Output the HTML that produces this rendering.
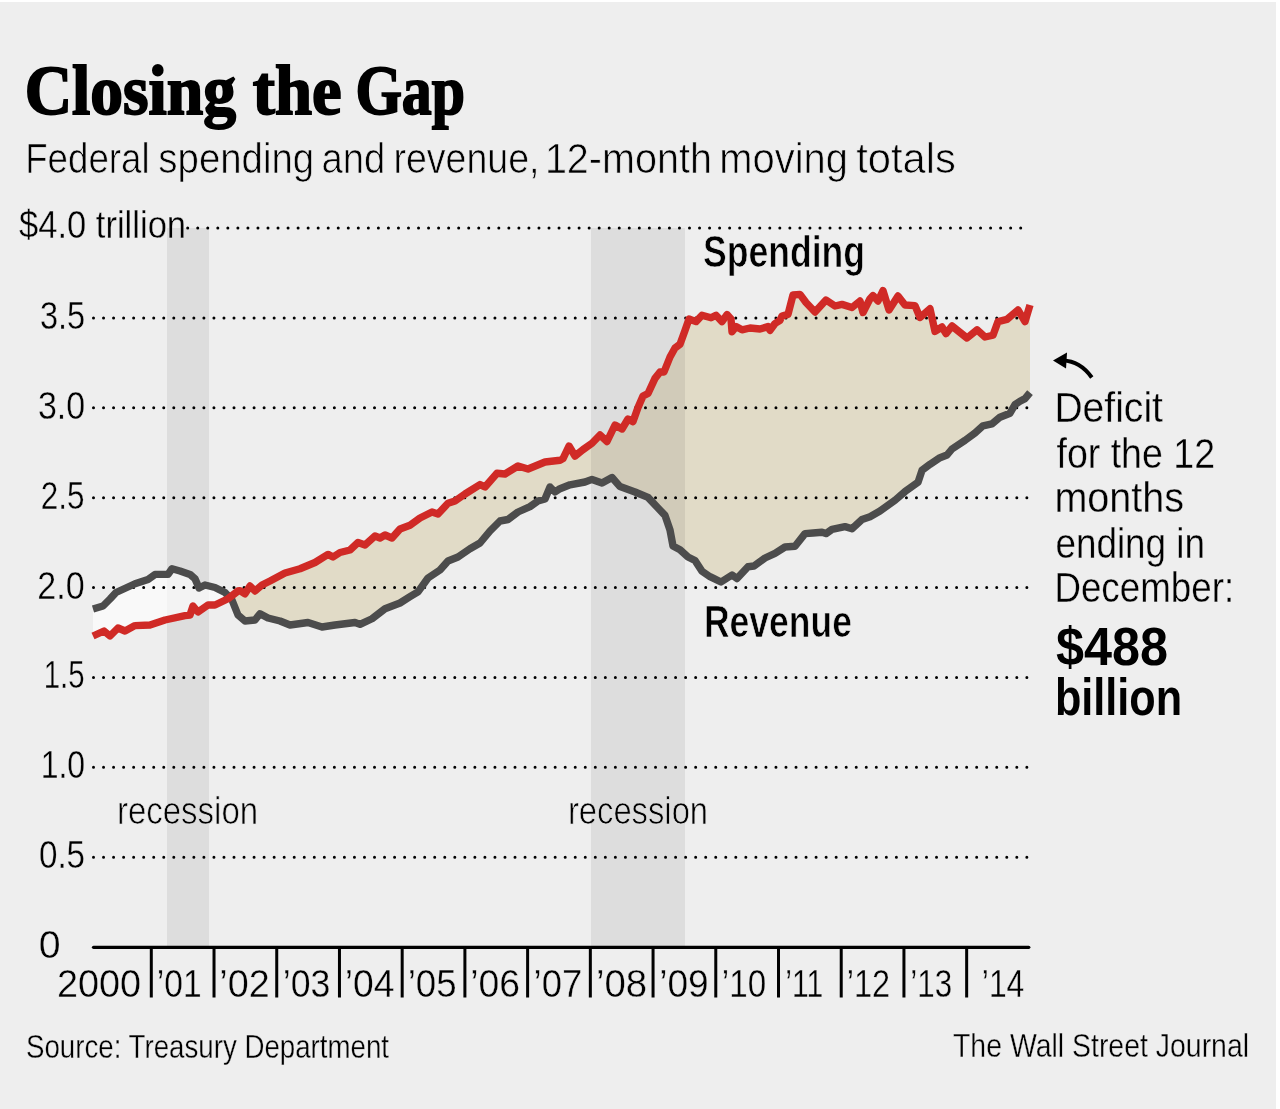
<!DOCTYPE html>
<html><head><meta charset="utf-8"><title>Closing the Gap</title>
<style>html,body{margin:0;padding:0;background:#eeeeee;width:1280px;height:1109px;overflow:hidden}svg{display:block}</style>
</head><body><svg width="1280" height="1109" viewBox="0 0 1280 1109">
<rect x="0" y="0" width="1280" height="1109" fill="#ffffff"/>
<rect x="0" y="2" width="1276" height="1107" fill="#eeeeee"/>
<rect x="167" y="228" width="42" height="719" fill="#dddddd"/>
<rect x="591" y="228" width="94" height="719" fill="#dddddd"/>
<defs><clipPath id="cb"><polygon points="93.00,636.00 104.00,631.00 110.00,636.00 118.00,628.00 125.00,631.00 135.00,625.60 150.00,625.00 165.00,620.00 185.00,615.60 190.00,615.00 193.00,606.00 198.00,612.00 208.00,605.00 215.00,605.00 228.00,598.75 238.00,591.00 240.00,590.60 245.00,593.75 250.00,586.00 255.00,591.00 262.00,585.00 270.00,581.00 285.00,573.00 300.00,568.75 315.00,562.50 328.00,554.40 333.00,557.00 340.00,552.50 350.00,550.00 358.00,542.50 365.00,545.00 375.00,536.00 380.00,538.00 385.00,535.00 392.00,538.00 400.00,529.00 410.00,525.20 420.00,518.00 432.00,512.00 438.00,514.00 448.00,503.30 455.00,501.00 465.00,494.00 480.00,484.60 485.00,487.00 497.00,473.30 505.00,474.00 518.00,466.00 528.00,469.00 545.00,462.00 560.00,460.30 563.00,458.60 569.00,446.00 575.00,456.00 583.00,449.60 592.00,443.30 600.00,435.00 607.00,441.50 615.00,425.00 622.00,429.00 628.00,419.00 633.00,421.60 638.00,407.40 643.00,396.00 648.00,393.50 655.00,378.40 660.00,372.00 664.00,372.00 670.00,357.00 675.00,348.00 680.00,344.30 685.00,330.40 689.00,319.00 696.00,321.60 702.00,315.25 711.00,317.80 716.00,315.25 722.00,321.60 727.00,314.60 731.00,319.00 732.00,331.70 736.00,326.60 742.00,329.80 750.00,328.00 760.00,329.00 768.00,326.60 770.00,330.40 775.00,323.50 780.00,320.30 782.00,316.00 788.00,314.40 793.00,295.00 800.00,294.40 806.00,302.50 815.00,312.00 826.00,300.00 835.00,306.00 842.00,304.40 852.00,307.50 860.00,301.00 863.00,312.50 870.00,298.75 873.00,295.60 878.00,301.00 883.00,290.60 889.00,310.00 898.00,296.00 905.00,305.00 915.00,305.60 920.00,317.50 930.00,308.75 935.00,331.40 942.00,327.00 946.00,333.60 952.00,326.00 967.00,338.00 977.00,329.80 985.00,337.00 993.00,335.25 998.00,321.60 1007.00,319.40 1018.00,310.00 1025.00,321.60 1030.00,305.00 1030.00,960.00 93.00,960.00"/></clipPath><clipPath id="ca"><polygon points="93.00,636.00 104.00,631.00 110.00,636.00 118.00,628.00 125.00,631.00 135.00,625.60 150.00,625.00 165.00,620.00 185.00,615.60 190.00,615.00 193.00,606.00 198.00,612.00 208.00,605.00 215.00,605.00 228.00,598.75 238.00,591.00 240.00,590.60 245.00,593.75 250.00,586.00 255.00,591.00 262.00,585.00 270.00,581.00 285.00,573.00 300.00,568.75 315.00,562.50 328.00,554.40 333.00,557.00 340.00,552.50 350.00,550.00 358.00,542.50 365.00,545.00 375.00,536.00 380.00,538.00 385.00,535.00 392.00,538.00 400.00,529.00 410.00,525.20 420.00,518.00 432.00,512.00 438.00,514.00 448.00,503.30 455.00,501.00 465.00,494.00 480.00,484.60 485.00,487.00 497.00,473.30 505.00,474.00 518.00,466.00 528.00,469.00 545.00,462.00 560.00,460.30 563.00,458.60 569.00,446.00 575.00,456.00 583.00,449.60 592.00,443.30 600.00,435.00 607.00,441.50 615.00,425.00 622.00,429.00 628.00,419.00 633.00,421.60 638.00,407.40 643.00,396.00 648.00,393.50 655.00,378.40 660.00,372.00 664.00,372.00 670.00,357.00 675.00,348.00 680.00,344.30 685.00,330.40 689.00,319.00 696.00,321.60 702.00,315.25 711.00,317.80 716.00,315.25 722.00,321.60 727.00,314.60 731.00,319.00 732.00,331.70 736.00,326.60 742.00,329.80 750.00,328.00 760.00,329.00 768.00,326.60 770.00,330.40 775.00,323.50 780.00,320.30 782.00,316.00 788.00,314.40 793.00,295.00 800.00,294.40 806.00,302.50 815.00,312.00 826.00,300.00 835.00,306.00 842.00,304.40 852.00,307.50 860.00,301.00 863.00,312.50 870.00,298.75 873.00,295.60 878.00,301.00 883.00,290.60 889.00,310.00 898.00,296.00 905.00,305.00 915.00,305.60 920.00,317.50 930.00,308.75 935.00,331.40 942.00,327.00 946.00,333.60 952.00,326.00 967.00,338.00 977.00,329.80 985.00,337.00 993.00,335.25 998.00,321.60 1007.00,319.40 1018.00,310.00 1025.00,321.60 1030.00,305.00 1030.00,150.00 93.00,150.00"/></clipPath></defs>
<polygon points="93.00,636.00 104.00,631.00 110.00,636.00 118.00,628.00 125.00,631.00 135.00,625.60 150.00,625.00 165.00,620.00 185.00,615.60 190.00,615.00 193.00,606.00 198.00,612.00 208.00,605.00 215.00,605.00 228.00,598.75 238.00,591.00 240.00,590.60 245.00,593.75 250.00,586.00 255.00,591.00 262.00,585.00 270.00,581.00 285.00,573.00 300.00,568.75 315.00,562.50 328.00,554.40 333.00,557.00 340.00,552.50 350.00,550.00 358.00,542.50 365.00,545.00 375.00,536.00 380.00,538.00 385.00,535.00 392.00,538.00 400.00,529.00 410.00,525.20 420.00,518.00 432.00,512.00 438.00,514.00 448.00,503.30 455.00,501.00 465.00,494.00 480.00,484.60 485.00,487.00 497.00,473.30 505.00,474.00 518.00,466.00 528.00,469.00 545.00,462.00 560.00,460.30 563.00,458.60 569.00,446.00 575.00,456.00 583.00,449.60 592.00,443.30 600.00,435.00 607.00,441.50 615.00,425.00 622.00,429.00 628.00,419.00 633.00,421.60 638.00,407.40 643.00,396.00 648.00,393.50 655.00,378.40 660.00,372.00 664.00,372.00 670.00,357.00 675.00,348.00 680.00,344.30 685.00,330.40 689.00,319.00 696.00,321.60 702.00,315.25 711.00,317.80 716.00,315.25 722.00,321.60 727.00,314.60 731.00,319.00 732.00,331.70 736.00,326.60 742.00,329.80 750.00,328.00 760.00,329.00 768.00,326.60 770.00,330.40 775.00,323.50 780.00,320.30 782.00,316.00 788.00,314.40 793.00,295.00 800.00,294.40 806.00,302.50 815.00,312.00 826.00,300.00 835.00,306.00 842.00,304.40 852.00,307.50 860.00,301.00 863.00,312.50 870.00,298.75 873.00,295.60 878.00,301.00 883.00,290.60 889.00,310.00 898.00,296.00 905.00,305.00 915.00,305.60 920.00,317.50 930.00,308.75 935.00,331.40 942.00,327.00 946.00,333.60 952.00,326.00 967.00,338.00 977.00,329.80 985.00,337.00 993.00,335.25 998.00,321.60 1007.00,319.40 1018.00,310.00 1025.00,321.60 1030.00,305.00 1030.00,392.60 1025.00,398.60 1020.00,401.20 1015.00,404.60 1010.00,413.20 1000.00,417.20 992.00,423.80 983.00,425.80 975.00,433.00 965.00,440.40 952.00,449.00 947.00,455.00 940.00,457.70 930.00,464.30 922.00,470.30 918.00,482.30 905.00,491.60 895.00,500.20 880.00,511.00 870.00,516.70 862.00,519.50 852.00,528.70 845.00,526.60 832.00,529.40 826.00,533.60 822.00,532.20 813.00,533.00 805.00,533.60 795.00,546.30 785.00,547.00 775.00,553.30 765.00,558.00 754.00,566.00 748.00,566.70 737.00,578.60 732.00,575.00 721.00,582.00 710.00,576.70 702.00,571.30 695.00,560.50 688.00,557.00 680.00,549.70 673.00,546.00 670.00,530.00 665.00,515.40 658.00,508.00 648.00,497.40 635.00,492.00 620.00,486.60 612.00,477.50 602.00,483.00 592.00,479.40 585.00,482.00 570.00,484.80 560.00,488.70 555.00,492.00 550.00,487.00 545.00,499.00 538.00,501.00 530.00,506.60 518.00,512.00 508.00,519.50 500.00,521.00 490.00,531.00 480.00,543.00 470.00,548.80 458.00,557.00 448.00,561.00 440.00,570.00 428.00,578.00 418.00,591.80 410.00,596.70 400.00,603.00 385.00,608.75 372.00,618.75 360.00,624.40 355.00,622.50 335.00,625.00 322.00,627.00 308.00,622.50 290.00,625.00 280.00,621.00 268.00,618.00 260.00,613.75 255.00,620.00 245.00,621.00 238.00,615.00 232.00,600.00 225.00,592.50 215.00,587.50 205.00,585.00 199.00,588.00 195.00,578.75 190.00,574.40 180.00,571.00 172.00,568.75 168.00,574.40 155.00,574.40 148.00,579.40 135.00,583.75 116.00,592.50 110.00,599.00 103.00,606.00 93.00,609.00" fill="#f2ebd6" style="mix-blend-mode:multiply" clip-path="url(#cb)"/>
<polygon points="93.00,636.00 104.00,631.00 110.00,636.00 118.00,628.00 125.00,631.00 135.00,625.60 150.00,625.00 165.00,620.00 185.00,615.60 190.00,615.00 193.00,606.00 198.00,612.00 208.00,605.00 215.00,605.00 228.00,598.75 238.00,591.00 240.00,590.60 245.00,593.75 250.00,586.00 255.00,591.00 262.00,585.00 270.00,581.00 285.00,573.00 300.00,568.75 315.00,562.50 328.00,554.40 333.00,557.00 340.00,552.50 350.00,550.00 358.00,542.50 365.00,545.00 375.00,536.00 380.00,538.00 385.00,535.00 392.00,538.00 400.00,529.00 410.00,525.20 420.00,518.00 432.00,512.00 438.00,514.00 448.00,503.30 455.00,501.00 465.00,494.00 480.00,484.60 485.00,487.00 497.00,473.30 505.00,474.00 518.00,466.00 528.00,469.00 545.00,462.00 560.00,460.30 563.00,458.60 569.00,446.00 575.00,456.00 583.00,449.60 592.00,443.30 600.00,435.00 607.00,441.50 615.00,425.00 622.00,429.00 628.00,419.00 633.00,421.60 638.00,407.40 643.00,396.00 648.00,393.50 655.00,378.40 660.00,372.00 664.00,372.00 670.00,357.00 675.00,348.00 680.00,344.30 685.00,330.40 689.00,319.00 696.00,321.60 702.00,315.25 711.00,317.80 716.00,315.25 722.00,321.60 727.00,314.60 731.00,319.00 732.00,331.70 736.00,326.60 742.00,329.80 750.00,328.00 760.00,329.00 768.00,326.60 770.00,330.40 775.00,323.50 780.00,320.30 782.00,316.00 788.00,314.40 793.00,295.00 800.00,294.40 806.00,302.50 815.00,312.00 826.00,300.00 835.00,306.00 842.00,304.40 852.00,307.50 860.00,301.00 863.00,312.50 870.00,298.75 873.00,295.60 878.00,301.00 883.00,290.60 889.00,310.00 898.00,296.00 905.00,305.00 915.00,305.60 920.00,317.50 930.00,308.75 935.00,331.40 942.00,327.00 946.00,333.60 952.00,326.00 967.00,338.00 977.00,329.80 985.00,337.00 993.00,335.25 998.00,321.60 1007.00,319.40 1018.00,310.00 1025.00,321.60 1030.00,305.00 1030.00,392.60 1025.00,398.60 1020.00,401.20 1015.00,404.60 1010.00,413.20 1000.00,417.20 992.00,423.80 983.00,425.80 975.00,433.00 965.00,440.40 952.00,449.00 947.00,455.00 940.00,457.70 930.00,464.30 922.00,470.30 918.00,482.30 905.00,491.60 895.00,500.20 880.00,511.00 870.00,516.70 862.00,519.50 852.00,528.70 845.00,526.60 832.00,529.40 826.00,533.60 822.00,532.20 813.00,533.00 805.00,533.60 795.00,546.30 785.00,547.00 775.00,553.30 765.00,558.00 754.00,566.00 748.00,566.70 737.00,578.60 732.00,575.00 721.00,582.00 710.00,576.70 702.00,571.30 695.00,560.50 688.00,557.00 680.00,549.70 673.00,546.00 670.00,530.00 665.00,515.40 658.00,508.00 648.00,497.40 635.00,492.00 620.00,486.60 612.00,477.50 602.00,483.00 592.00,479.40 585.00,482.00 570.00,484.80 560.00,488.70 555.00,492.00 550.00,487.00 545.00,499.00 538.00,501.00 530.00,506.60 518.00,512.00 508.00,519.50 500.00,521.00 490.00,531.00 480.00,543.00 470.00,548.80 458.00,557.00 448.00,561.00 440.00,570.00 428.00,578.00 418.00,591.80 410.00,596.70 400.00,603.00 385.00,608.75 372.00,618.75 360.00,624.40 355.00,622.50 335.00,625.00 322.00,627.00 308.00,622.50 290.00,625.00 280.00,621.00 268.00,618.00 260.00,613.75 255.00,620.00 245.00,621.00 238.00,615.00 232.00,600.00 225.00,592.50 215.00,587.50 205.00,585.00 199.00,588.00 195.00,578.75 190.00,574.40 180.00,571.00 172.00,568.75 168.00,574.40 155.00,574.40 148.00,579.40 135.00,583.75 116.00,592.50 110.00,599.00 103.00,606.00 93.00,609.00" fill="#ffffff" fill-opacity="0.65" clip-path="url(#ca)"/>
<path d="M187.70 228.10h0M197.74 228.10h0M207.77 228.10h0M217.81 228.10h0M227.84 228.10h0M237.88 228.10h0M247.92 228.10h0M257.95 228.10h0M267.99 228.10h0M278.02 228.10h0M288.06 228.10h0M298.10 228.10h0M308.13 228.10h0M318.17 228.10h0M328.20 228.10h0M338.24 228.10h0M348.28 228.10h0M358.31 228.10h0M368.35 228.10h0M378.38 228.10h0M388.42 228.10h0M398.46 228.10h0M408.49 228.10h0M418.53 228.10h0M428.56 228.10h0M438.60 228.10h0M448.64 228.10h0M458.67 228.10h0M468.71 228.10h0M478.74 228.10h0M488.78 228.10h0M498.82 228.10h0M508.85 228.10h0M518.89 228.10h0M528.92 228.10h0M538.96 228.10h0M549.00 228.10h0M559.03 228.10h0M569.07 228.10h0M579.10 228.10h0M589.14 228.10h0M599.18 228.10h0M609.21 228.10h0M619.25 228.10h0M629.28 228.10h0M639.32 228.10h0M649.36 228.10h0M659.39 228.10h0M669.43 228.10h0M679.46 228.10h0M689.50 228.10h0M699.54 228.10h0M709.57 228.10h0M719.61 228.10h0M729.64 228.10h0M739.68 228.10h0M749.72 228.10h0M759.75 228.10h0M769.79 228.10h0M779.82 228.10h0M789.86 228.10h0M799.90 228.10h0M809.93 228.10h0M819.97 228.10h0M830.00 228.10h0M840.04 228.10h0M850.08 228.10h0M860.11 228.10h0M870.15 228.10h0M880.18 228.10h0M890.22 228.10h0M900.26 228.10h0M910.29 228.10h0M920.33 228.10h0M930.36 228.10h0M940.40 228.10h0M950.44 228.10h0M960.47 228.10h0M970.51 228.10h0M980.54 228.10h0M990.58 228.10h0M1000.62 228.10h0M1010.65 228.10h0M1020.69 228.10h0" stroke="#000" stroke-width="3" stroke-linecap="round"/>
<path d="M93.50 317.98h0M103.54 317.98h0M113.57 317.98h0M123.61 317.98h0M133.64 317.98h0M143.68 317.98h0M153.72 317.98h0M163.75 317.98h0M173.79 317.98h0M183.82 317.98h0M193.86 317.98h0M203.90 317.98h0M213.93 317.98h0M223.97 317.98h0M234.00 317.98h0M244.04 317.98h0M254.08 317.98h0M264.11 317.98h0M274.15 317.98h0M284.18 317.98h0M294.22 317.98h0M304.26 317.98h0M314.29 317.98h0M324.33 317.98h0M334.36 317.98h0M344.40 317.98h0M354.44 317.98h0M364.47 317.98h0M374.51 317.98h0M384.54 317.98h0M394.58 317.98h0M404.62 317.98h0M414.65 317.98h0M424.69 317.98h0M434.72 317.98h0M444.76 317.98h0M454.80 317.98h0M464.83 317.98h0M474.87 317.98h0M484.90 317.98h0M494.94 317.98h0M504.98 317.98h0M515.01 317.98h0M525.05 317.98h0M535.08 317.98h0M545.12 317.98h0M555.16 317.98h0M565.19 317.98h0M575.23 317.98h0M585.26 317.98h0M595.30 317.98h0M605.34 317.98h0M615.37 317.98h0M625.41 317.98h0M635.44 317.98h0M645.48 317.98h0M655.52 317.98h0M665.55 317.98h0M675.59 317.98h0M685.62 317.98h0M695.66 317.98h0M705.70 317.98h0M715.73 317.98h0M725.77 317.98h0M735.80 317.98h0M745.84 317.98h0M755.88 317.98h0M765.91 317.98h0M775.95 317.98h0M785.98 317.98h0M796.02 317.98h0M806.06 317.98h0M816.09 317.98h0M826.13 317.98h0M836.16 317.98h0M846.20 317.98h0M856.24 317.98h0M866.27 317.98h0M876.31 317.98h0M886.34 317.98h0M896.38 317.98h0M906.42 317.98h0M916.45 317.98h0M926.49 317.98h0M936.52 317.98h0M946.56 317.98h0M956.60 317.98h0M966.63 317.98h0M976.67 317.98h0M986.70 317.98h0M996.74 317.98h0M1006.78 317.98h0M1016.81 317.98h0M1026.85 317.98h0" stroke="#000" stroke-width="3" stroke-linecap="round"/>
<path d="M93.50 407.85h0M103.54 407.85h0M113.57 407.85h0M123.61 407.85h0M133.64 407.85h0M143.68 407.85h0M153.72 407.85h0M163.75 407.85h0M173.79 407.85h0M183.82 407.85h0M193.86 407.85h0M203.90 407.85h0M213.93 407.85h0M223.97 407.85h0M234.00 407.85h0M244.04 407.85h0M254.08 407.85h0M264.11 407.85h0M274.15 407.85h0M284.18 407.85h0M294.22 407.85h0M304.26 407.85h0M314.29 407.85h0M324.33 407.85h0M334.36 407.85h0M344.40 407.85h0M354.44 407.85h0M364.47 407.85h0M374.51 407.85h0M384.54 407.85h0M394.58 407.85h0M404.62 407.85h0M414.65 407.85h0M424.69 407.85h0M434.72 407.85h0M444.76 407.85h0M454.80 407.85h0M464.83 407.85h0M474.87 407.85h0M484.90 407.85h0M494.94 407.85h0M504.98 407.85h0M515.01 407.85h0M525.05 407.85h0M535.08 407.85h0M545.12 407.85h0M555.16 407.85h0M565.19 407.85h0M575.23 407.85h0M585.26 407.85h0M595.30 407.85h0M605.34 407.85h0M615.37 407.85h0M625.41 407.85h0M635.44 407.85h0M645.48 407.85h0M655.52 407.85h0M665.55 407.85h0M675.59 407.85h0M685.62 407.85h0M695.66 407.85h0M705.70 407.85h0M715.73 407.85h0M725.77 407.85h0M735.80 407.85h0M745.84 407.85h0M755.88 407.85h0M765.91 407.85h0M775.95 407.85h0M785.98 407.85h0M796.02 407.85h0M806.06 407.85h0M816.09 407.85h0M826.13 407.85h0M836.16 407.85h0M846.20 407.85h0M856.24 407.85h0M866.27 407.85h0M876.31 407.85h0M886.34 407.85h0M896.38 407.85h0M906.42 407.85h0M916.45 407.85h0M926.49 407.85h0M936.52 407.85h0M946.56 407.85h0M956.60 407.85h0M966.63 407.85h0M976.67 407.85h0M986.70 407.85h0M996.74 407.85h0M1006.78 407.85h0M1016.81 407.85h0M1026.85 407.85h0" stroke="#000" stroke-width="3" stroke-linecap="round"/>
<path d="M93.50 497.73h0M103.54 497.73h0M113.57 497.73h0M123.61 497.73h0M133.64 497.73h0M143.68 497.73h0M153.72 497.73h0M163.75 497.73h0M173.79 497.73h0M183.82 497.73h0M193.86 497.73h0M203.90 497.73h0M213.93 497.73h0M223.97 497.73h0M234.00 497.73h0M244.04 497.73h0M254.08 497.73h0M264.11 497.73h0M274.15 497.73h0M284.18 497.73h0M294.22 497.73h0M304.26 497.73h0M314.29 497.73h0M324.33 497.73h0M334.36 497.73h0M344.40 497.73h0M354.44 497.73h0M364.47 497.73h0M374.51 497.73h0M384.54 497.73h0M394.58 497.73h0M404.62 497.73h0M414.65 497.73h0M424.69 497.73h0M434.72 497.73h0M444.76 497.73h0M454.80 497.73h0M464.83 497.73h0M474.87 497.73h0M484.90 497.73h0M494.94 497.73h0M504.98 497.73h0M515.01 497.73h0M525.05 497.73h0M535.08 497.73h0M545.12 497.73h0M555.16 497.73h0M565.19 497.73h0M575.23 497.73h0M585.26 497.73h0M595.30 497.73h0M605.34 497.73h0M615.37 497.73h0M625.41 497.73h0M635.44 497.73h0M645.48 497.73h0M655.52 497.73h0M665.55 497.73h0M675.59 497.73h0M685.62 497.73h0M695.66 497.73h0M705.70 497.73h0M715.73 497.73h0M725.77 497.73h0M735.80 497.73h0M745.84 497.73h0M755.88 497.73h0M765.91 497.73h0M775.95 497.73h0M785.98 497.73h0M796.02 497.73h0M806.06 497.73h0M816.09 497.73h0M826.13 497.73h0M836.16 497.73h0M846.20 497.73h0M856.24 497.73h0M866.27 497.73h0M876.31 497.73h0M886.34 497.73h0M896.38 497.73h0M906.42 497.73h0M916.45 497.73h0M926.49 497.73h0M936.52 497.73h0M946.56 497.73h0M956.60 497.73h0M966.63 497.73h0M976.67 497.73h0M986.70 497.73h0M996.74 497.73h0M1006.78 497.73h0M1016.81 497.73h0M1026.85 497.73h0" stroke="#000" stroke-width="3" stroke-linecap="round"/>
<path d="M93.50 587.60h0M103.54 587.60h0M113.57 587.60h0M123.61 587.60h0M133.64 587.60h0M143.68 587.60h0M153.72 587.60h0M163.75 587.60h0M173.79 587.60h0M183.82 587.60h0M193.86 587.60h0M203.90 587.60h0M213.93 587.60h0M223.97 587.60h0M234.00 587.60h0M244.04 587.60h0M254.08 587.60h0M264.11 587.60h0M274.15 587.60h0M284.18 587.60h0M294.22 587.60h0M304.26 587.60h0M314.29 587.60h0M324.33 587.60h0M334.36 587.60h0M344.40 587.60h0M354.44 587.60h0M364.47 587.60h0M374.51 587.60h0M384.54 587.60h0M394.58 587.60h0M404.62 587.60h0M414.65 587.60h0M424.69 587.60h0M434.72 587.60h0M444.76 587.60h0M454.80 587.60h0M464.83 587.60h0M474.87 587.60h0M484.90 587.60h0M494.94 587.60h0M504.98 587.60h0M515.01 587.60h0M525.05 587.60h0M535.08 587.60h0M545.12 587.60h0M555.16 587.60h0M565.19 587.60h0M575.23 587.60h0M585.26 587.60h0M595.30 587.60h0M605.34 587.60h0M615.37 587.60h0M625.41 587.60h0M635.44 587.60h0M645.48 587.60h0M655.52 587.60h0M665.55 587.60h0M675.59 587.60h0M685.62 587.60h0M695.66 587.60h0M705.70 587.60h0M715.73 587.60h0M725.77 587.60h0M735.80 587.60h0M745.84 587.60h0M755.88 587.60h0M765.91 587.60h0M775.95 587.60h0M785.98 587.60h0M796.02 587.60h0M806.06 587.60h0M816.09 587.60h0M826.13 587.60h0M836.16 587.60h0M846.20 587.60h0M856.24 587.60h0M866.27 587.60h0M876.31 587.60h0M886.34 587.60h0M896.38 587.60h0M906.42 587.60h0M916.45 587.60h0M926.49 587.60h0M936.52 587.60h0M946.56 587.60h0M956.60 587.60h0M966.63 587.60h0M976.67 587.60h0M986.70 587.60h0M996.74 587.60h0M1006.78 587.60h0M1016.81 587.60h0M1026.85 587.60h0" stroke="#000" stroke-width="3" stroke-linecap="round"/>
<path d="M93.50 677.48h0M103.54 677.48h0M113.57 677.48h0M123.61 677.48h0M133.64 677.48h0M143.68 677.48h0M153.72 677.48h0M163.75 677.48h0M173.79 677.48h0M183.82 677.48h0M193.86 677.48h0M203.90 677.48h0M213.93 677.48h0M223.97 677.48h0M234.00 677.48h0M244.04 677.48h0M254.08 677.48h0M264.11 677.48h0M274.15 677.48h0M284.18 677.48h0M294.22 677.48h0M304.26 677.48h0M314.29 677.48h0M324.33 677.48h0M334.36 677.48h0M344.40 677.48h0M354.44 677.48h0M364.47 677.48h0M374.51 677.48h0M384.54 677.48h0M394.58 677.48h0M404.62 677.48h0M414.65 677.48h0M424.69 677.48h0M434.72 677.48h0M444.76 677.48h0M454.80 677.48h0M464.83 677.48h0M474.87 677.48h0M484.90 677.48h0M494.94 677.48h0M504.98 677.48h0M515.01 677.48h0M525.05 677.48h0M535.08 677.48h0M545.12 677.48h0M555.16 677.48h0M565.19 677.48h0M575.23 677.48h0M585.26 677.48h0M595.30 677.48h0M605.34 677.48h0M615.37 677.48h0M625.41 677.48h0M635.44 677.48h0M645.48 677.48h0M655.52 677.48h0M665.55 677.48h0M675.59 677.48h0M685.62 677.48h0M695.66 677.48h0M705.70 677.48h0M715.73 677.48h0M725.77 677.48h0M735.80 677.48h0M745.84 677.48h0M755.88 677.48h0M765.91 677.48h0M775.95 677.48h0M785.98 677.48h0M796.02 677.48h0M806.06 677.48h0M816.09 677.48h0M826.13 677.48h0M836.16 677.48h0M846.20 677.48h0M856.24 677.48h0M866.27 677.48h0M876.31 677.48h0M886.34 677.48h0M896.38 677.48h0M906.42 677.48h0M916.45 677.48h0M926.49 677.48h0M936.52 677.48h0M946.56 677.48h0M956.60 677.48h0M966.63 677.48h0M976.67 677.48h0M986.70 677.48h0M996.74 677.48h0M1006.78 677.48h0M1016.81 677.48h0M1026.85 677.48h0" stroke="#000" stroke-width="3" stroke-linecap="round"/>
<path d="M93.50 767.35h0M103.54 767.35h0M113.57 767.35h0M123.61 767.35h0M133.64 767.35h0M143.68 767.35h0M153.72 767.35h0M163.75 767.35h0M173.79 767.35h0M183.82 767.35h0M193.86 767.35h0M203.90 767.35h0M213.93 767.35h0M223.97 767.35h0M234.00 767.35h0M244.04 767.35h0M254.08 767.35h0M264.11 767.35h0M274.15 767.35h0M284.18 767.35h0M294.22 767.35h0M304.26 767.35h0M314.29 767.35h0M324.33 767.35h0M334.36 767.35h0M344.40 767.35h0M354.44 767.35h0M364.47 767.35h0M374.51 767.35h0M384.54 767.35h0M394.58 767.35h0M404.62 767.35h0M414.65 767.35h0M424.69 767.35h0M434.72 767.35h0M444.76 767.35h0M454.80 767.35h0M464.83 767.35h0M474.87 767.35h0M484.90 767.35h0M494.94 767.35h0M504.98 767.35h0M515.01 767.35h0M525.05 767.35h0M535.08 767.35h0M545.12 767.35h0M555.16 767.35h0M565.19 767.35h0M575.23 767.35h0M585.26 767.35h0M595.30 767.35h0M605.34 767.35h0M615.37 767.35h0M625.41 767.35h0M635.44 767.35h0M645.48 767.35h0M655.52 767.35h0M665.55 767.35h0M675.59 767.35h0M685.62 767.35h0M695.66 767.35h0M705.70 767.35h0M715.73 767.35h0M725.77 767.35h0M735.80 767.35h0M745.84 767.35h0M755.88 767.35h0M765.91 767.35h0M775.95 767.35h0M785.98 767.35h0M796.02 767.35h0M806.06 767.35h0M816.09 767.35h0M826.13 767.35h0M836.16 767.35h0M846.20 767.35h0M856.24 767.35h0M866.27 767.35h0M876.31 767.35h0M886.34 767.35h0M896.38 767.35h0M906.42 767.35h0M916.45 767.35h0M926.49 767.35h0M936.52 767.35h0M946.56 767.35h0M956.60 767.35h0M966.63 767.35h0M976.67 767.35h0M986.70 767.35h0M996.74 767.35h0M1006.78 767.35h0M1016.81 767.35h0M1026.85 767.35h0" stroke="#000" stroke-width="3" stroke-linecap="round"/>
<path d="M93.50 857.23h0M103.54 857.23h0M113.57 857.23h0M123.61 857.23h0M133.64 857.23h0M143.68 857.23h0M153.72 857.23h0M163.75 857.23h0M173.79 857.23h0M183.82 857.23h0M193.86 857.23h0M203.90 857.23h0M213.93 857.23h0M223.97 857.23h0M234.00 857.23h0M244.04 857.23h0M254.08 857.23h0M264.11 857.23h0M274.15 857.23h0M284.18 857.23h0M294.22 857.23h0M304.26 857.23h0M314.29 857.23h0M324.33 857.23h0M334.36 857.23h0M344.40 857.23h0M354.44 857.23h0M364.47 857.23h0M374.51 857.23h0M384.54 857.23h0M394.58 857.23h0M404.62 857.23h0M414.65 857.23h0M424.69 857.23h0M434.72 857.23h0M444.76 857.23h0M454.80 857.23h0M464.83 857.23h0M474.87 857.23h0M484.90 857.23h0M494.94 857.23h0M504.98 857.23h0M515.01 857.23h0M525.05 857.23h0M535.08 857.23h0M545.12 857.23h0M555.16 857.23h0M565.19 857.23h0M575.23 857.23h0M585.26 857.23h0M595.30 857.23h0M605.34 857.23h0M615.37 857.23h0M625.41 857.23h0M635.44 857.23h0M645.48 857.23h0M655.52 857.23h0M665.55 857.23h0M675.59 857.23h0M685.62 857.23h0M695.66 857.23h0M705.70 857.23h0M715.73 857.23h0M725.77 857.23h0M735.80 857.23h0M745.84 857.23h0M755.88 857.23h0M765.91 857.23h0M775.95 857.23h0M785.98 857.23h0M796.02 857.23h0M806.06 857.23h0M816.09 857.23h0M826.13 857.23h0M836.16 857.23h0M846.20 857.23h0M856.24 857.23h0M866.27 857.23h0M876.31 857.23h0M886.34 857.23h0M896.38 857.23h0M906.42 857.23h0M916.45 857.23h0M926.49 857.23h0M936.52 857.23h0M946.56 857.23h0M956.60 857.23h0M966.63 857.23h0M976.67 857.23h0M986.70 857.23h0M996.74 857.23h0M1006.78 857.23h0M1016.81 857.23h0M1026.85 857.23h0" stroke="#000" stroke-width="3" stroke-linecap="round"/>
<line x1="93.5" y1="947.3" x2="1028.8" y2="947.3" stroke="#000" stroke-width="3.2" stroke-linecap="round"/>
<path d="M151.30 947.3V997.5M214.02 947.3V997.5M276.74 947.3V997.5M339.46 947.3V997.5M402.18 947.3V997.5M464.90 947.3V997.5M527.62 947.3V997.5M590.34 947.3V997.5M653.06 947.3V997.5M715.78 947.3V997.5M778.50 947.3V997.5M841.22 947.3V997.5M903.94 947.3V997.5M966.66 947.3V997.5" stroke="#000" stroke-width="3"/>
<polyline points="93.00,609.00 103.00,606.00 110.00,599.00 116.00,592.50 135.00,583.75 148.00,579.40 155.00,574.40 168.00,574.40 172.00,568.75 180.00,571.00 190.00,574.40 195.00,578.75 199.00,588.00 205.00,585.00 215.00,587.50 225.00,592.50 232.00,600.00 238.00,615.00 245.00,621.00 255.00,620.00 260.00,613.75 268.00,618.00 280.00,621.00 290.00,625.00 308.00,622.50 322.00,627.00 335.00,625.00 355.00,622.50 360.00,624.40 372.00,618.75 385.00,608.75 400.00,603.00 410.00,596.70 418.00,591.80 428.00,578.00 440.00,570.00 448.00,561.00 458.00,557.00 470.00,548.80 480.00,543.00 490.00,531.00 500.00,521.00 508.00,519.50 518.00,512.00 530.00,506.60 538.00,501.00 545.00,499.00 550.00,487.00 555.00,492.00 560.00,488.70 570.00,484.80 585.00,482.00 592.00,479.40 602.00,483.00 612.00,477.50 620.00,486.60 635.00,492.00 648.00,497.40 658.00,508.00 665.00,515.40 670.00,530.00 673.00,546.00 680.00,549.70 688.00,557.00 695.00,560.50 702.00,571.30 710.00,576.70 721.00,582.00 732.00,575.00 737.00,578.60 748.00,566.70 754.00,566.00 765.00,558.00 775.00,553.30 785.00,547.00 795.00,546.30 805.00,533.60 813.00,533.00 822.00,532.20 826.00,533.60 832.00,529.40 845.00,526.60 852.00,528.70 862.00,519.50 870.00,516.70 880.00,511.00 895.00,500.20 905.00,491.60 918.00,482.30 922.00,470.30 930.00,464.30 940.00,457.70 947.00,455.00 952.00,449.00 965.00,440.40 975.00,433.00 983.00,425.80 992.00,423.80 1000.00,417.20 1010.00,413.20 1015.00,404.60 1020.00,401.20 1025.00,398.60 1030.00,392.60" fill="none" stroke="#4c4c4c" stroke-width="7.4" stroke-linejoin="round"/>
<polyline points="93.00,636.00 104.00,631.00 110.00,636.00 118.00,628.00 125.00,631.00 135.00,625.60 150.00,625.00 165.00,620.00 185.00,615.60 190.00,615.00 193.00,606.00 198.00,612.00 208.00,605.00 215.00,605.00 228.00,598.75 238.00,591.00 240.00,590.60 245.00,593.75 250.00,586.00 255.00,591.00 262.00,585.00 270.00,581.00 285.00,573.00 300.00,568.75 315.00,562.50 328.00,554.40 333.00,557.00 340.00,552.50 350.00,550.00 358.00,542.50 365.00,545.00 375.00,536.00 380.00,538.00 385.00,535.00 392.00,538.00 400.00,529.00 410.00,525.20 420.00,518.00 432.00,512.00 438.00,514.00 448.00,503.30 455.00,501.00 465.00,494.00 480.00,484.60 485.00,487.00 497.00,473.30 505.00,474.00 518.00,466.00 528.00,469.00 545.00,462.00 560.00,460.30 563.00,458.60 569.00,446.00 575.00,456.00 583.00,449.60 592.00,443.30 600.00,435.00 607.00,441.50 615.00,425.00 622.00,429.00 628.00,419.00 633.00,421.60 638.00,407.40 643.00,396.00 648.00,393.50 655.00,378.40 660.00,372.00 664.00,372.00 670.00,357.00 675.00,348.00 680.00,344.30 685.00,330.40 689.00,319.00 696.00,321.60 702.00,315.25 711.00,317.80 716.00,315.25 722.00,321.60 727.00,314.60 731.00,319.00 732.00,331.70 736.00,326.60 742.00,329.80 750.00,328.00 760.00,329.00 768.00,326.60 770.00,330.40 775.00,323.50 780.00,320.30 782.00,316.00 788.00,314.40 793.00,295.00 800.00,294.40 806.00,302.50 815.00,312.00 826.00,300.00 835.00,306.00 842.00,304.40 852.00,307.50 860.00,301.00 863.00,312.50 870.00,298.75 873.00,295.60 878.00,301.00 883.00,290.60 889.00,310.00 898.00,296.00 905.00,305.00 915.00,305.60 920.00,317.50 930.00,308.75 935.00,331.40 942.00,327.00 946.00,333.60 952.00,326.00 967.00,338.00 977.00,329.80 985.00,337.00 993.00,335.25 998.00,321.60 1007.00,319.40 1018.00,310.00 1025.00,321.60 1030.00,305.00" fill="none" stroke="#d02a26" stroke-width="7.4" stroke-linejoin="round"/>
<path d="M1091.8 377.5 Q1080 361 1063 360.5" fill="none" stroke="#000" stroke-width="4"/>
<polygon points="1053,360.5 1067,352.5 1066,368.5" fill="#000"/>
<text x="24.67" y="113.50" font-family="&quot;Liberation Serif&quot;, serif" font-weight="bold" font-size="69.00" textLength="211.41" lengthAdjust="spacingAndGlyphs" fill="#000" stroke="#000" stroke-width="1.9">Closing</text>
<text x="252.79" y="113.50" font-family="&quot;Liberation Serif&quot;, serif" font-weight="bold" font-size="69.00" textLength="88.71" lengthAdjust="spacingAndGlyphs" fill="#000" stroke="#000" stroke-width="1.9">the</text>
<text x="355.39" y="113.50" font-family="&quot;Liberation Serif&quot;, serif" font-weight="bold" font-size="69.00" textLength="109.63" lengthAdjust="spacingAndGlyphs" fill="#000" stroke="#000" stroke-width="1.9">Gap</text>
<text x="25.21" y="173.10" font-family="&quot;Liberation Sans&quot;, sans-serif" font-weight="normal" font-size="42.50" textLength="124.37" lengthAdjust="spacingAndGlyphs" fill="#000" stroke="#eeeeee" stroke-width="0.7">Federal</text>
<text x="158.34" y="173.10" font-family="&quot;Liberation Sans&quot;, sans-serif" font-weight="normal" font-size="42.50" textLength="155.84" lengthAdjust="spacingAndGlyphs" fill="#000" stroke="#eeeeee" stroke-width="0.7">spending</text>
<text x="321.46" y="173.10" font-family="&quot;Liberation Sans&quot;, sans-serif" font-weight="normal" font-size="42.50" textLength="63.91" lengthAdjust="spacingAndGlyphs" fill="#000" stroke="#eeeeee" stroke-width="0.7">and</text>
<text x="393.48" y="173.10" font-family="&quot;Liberation Sans&quot;, sans-serif" font-weight="normal" font-size="42.50" textLength="145.99" lengthAdjust="spacingAndGlyphs" fill="#000" stroke="#eeeeee" stroke-width="0.7">revenue,</text>
<text x="544.89" y="173.10" font-family="&quot;Liberation Sans&quot;, sans-serif" font-weight="normal" font-size="42.50" textLength="167.02" lengthAdjust="spacingAndGlyphs" fill="#000" stroke="#eeeeee" stroke-width="0.7">12-month</text>
<text x="719.37" y="173.10" font-family="&quot;Liberation Sans&quot;, sans-serif" font-weight="normal" font-size="42.50" textLength="128.54" lengthAdjust="spacingAndGlyphs" fill="#000" stroke="#eeeeee" stroke-width="0.7">moving</text>
<text x="856.24" y="173.10" font-family="&quot;Liberation Sans&quot;, sans-serif" font-weight="normal" font-size="42.50" textLength="99.59" lengthAdjust="spacingAndGlyphs" fill="#000" stroke="#eeeeee" stroke-width="0.7">totals</text>
<text x="18.99" y="238.30" font-family="&quot;Liberation Sans&quot;, sans-serif" font-weight="normal" font-size="39.50" textLength="167.09" lengthAdjust="spacingAndGlyphs" fill="#000" stroke="#eeeeee" stroke-width="0.35">$4.0 trillion</text>
<text x="39.90" y="328.80" font-family="&quot;Liberation Sans&quot;, sans-serif" font-weight="normal" font-size="39.50" textLength="45.23" lengthAdjust="spacingAndGlyphs" fill="#000" stroke="#eeeeee" stroke-width="0.35">3.5</text>
<text x="37.89" y="418.60" font-family="&quot;Liberation Sans&quot;, sans-serif" font-weight="normal" font-size="39.50" textLength="47.25" lengthAdjust="spacingAndGlyphs" fill="#000" stroke="#eeeeee" stroke-width="0.35">3.0</text>
<text x="40.87" y="508.70" font-family="&quot;Liberation Sans&quot;, sans-serif" font-weight="normal" font-size="39.50" textLength="43.70" lengthAdjust="spacingAndGlyphs" fill="#000" stroke="#eeeeee" stroke-width="0.35">2.5</text>
<text x="37.36" y="598.60" font-family="&quot;Liberation Sans&quot;, sans-serif" font-weight="normal" font-size="39.50" textLength="47.28" lengthAdjust="spacingAndGlyphs" fill="#000" stroke="#eeeeee" stroke-width="0.35">2.0</text>
<text x="43.77" y="688.40" font-family="&quot;Liberation Sans&quot;, sans-serif" font-weight="normal" font-size="39.50" textLength="40.87" lengthAdjust="spacingAndGlyphs" fill="#000" stroke="#eeeeee" stroke-width="0.35">1.5</text>
<text x="40.69" y="778.20" font-family="&quot;Liberation Sans&quot;, sans-serif" font-weight="normal" font-size="39.50" textLength="44.47" lengthAdjust="spacingAndGlyphs" fill="#000" stroke="#eeeeee" stroke-width="0.35">1.0</text>
<text x="38.94" y="868.00" font-family="&quot;Liberation Sans&quot;, sans-serif" font-weight="normal" font-size="39.50" textLength="46.14" lengthAdjust="spacingAndGlyphs" fill="#000" stroke="#eeeeee" stroke-width="0.35">0.5</text>
<text x="38.68" y="958.30" font-family="&quot;Liberation Sans&quot;, sans-serif" font-weight="normal" font-size="39.50" textLength="21.84" lengthAdjust="spacingAndGlyphs" fill="#000" stroke="#eeeeee" stroke-width="0.35">0</text>
<text x="56.92" y="997.30" font-family="&quot;Liberation Sans&quot;, sans-serif" font-weight="normal" font-size="39.50" textLength="84.14" lengthAdjust="spacingAndGlyphs" fill="#000" stroke="#eeeeee" stroke-width="0.35">2000</text>
<text x="156.80" y="997.30" font-family="&quot;Liberation Sans&quot;, sans-serif" font-weight="normal" font-size="39.50" textLength="44.82" lengthAdjust="spacingAndGlyphs" fill="#000" stroke="#eeeeee" stroke-width="0.35">’01</text>
<text x="219.24" y="997.30" font-family="&quot;Liberation Sans&quot;, sans-serif" font-weight="normal" font-size="39.50" textLength="50.41" lengthAdjust="spacingAndGlyphs" fill="#000" stroke="#eeeeee" stroke-width="0.35">’02</text>
<text x="282.82" y="997.30" font-family="&quot;Liberation Sans&quot;, sans-serif" font-weight="normal" font-size="39.50" textLength="47.59" lengthAdjust="spacingAndGlyphs" fill="#000" stroke="#eeeeee" stroke-width="0.35">’03</text>
<text x="344.81" y="997.30" font-family="&quot;Liberation Sans&quot;, sans-serif" font-weight="normal" font-size="39.50" textLength="49.76" lengthAdjust="spacingAndGlyphs" fill="#000" stroke="#eeeeee" stroke-width="0.35">’04</text>
<text x="407.73" y="997.30" font-family="&quot;Liberation Sans&quot;, sans-serif" font-weight="normal" font-size="39.50" textLength="48.91" lengthAdjust="spacingAndGlyphs" fill="#000" stroke="#eeeeee" stroke-width="0.35">’05</text>
<text x="470.30" y="997.30" font-family="&quot;Liberation Sans&quot;, sans-serif" font-weight="normal" font-size="39.50" textLength="49.85" lengthAdjust="spacingAndGlyphs" fill="#000" stroke="#eeeeee" stroke-width="0.35">’06</text>
<text x="533.56" y="997.30" font-family="&quot;Liberation Sans&quot;, sans-serif" font-weight="normal" font-size="39.50" textLength="48.59" lengthAdjust="spacingAndGlyphs" fill="#000" stroke="#eeeeee" stroke-width="0.35">’07</text>
<text x="595.97" y="997.30" font-family="&quot;Liberation Sans&quot;, sans-serif" font-weight="normal" font-size="39.50" textLength="51.18" lengthAdjust="spacingAndGlyphs" fill="#000" stroke="#eeeeee" stroke-width="0.35">’08</text>
<text x="659.27" y="997.30" font-family="&quot;Liberation Sans&quot;, sans-serif" font-weight="normal" font-size="39.50" textLength="49.43" lengthAdjust="spacingAndGlyphs" fill="#000" stroke="#eeeeee" stroke-width="0.35">’09</text>
<text x="721.84" y="997.30" font-family="&quot;Liberation Sans&quot;, sans-serif" font-weight="normal" font-size="39.50" textLength="44.27" lengthAdjust="spacingAndGlyphs" fill="#000" stroke="#eeeeee" stroke-width="0.35">’10</text>
<text x="785.26" y="997.30" font-family="&quot;Liberation Sans&quot;, sans-serif" font-weight="normal" font-size="39.50" textLength="37.91" lengthAdjust="spacingAndGlyphs" fill="#000" stroke="#eeeeee" stroke-width="0.35">’11</text>
<text x="846.80" y="997.30" font-family="&quot;Liberation Sans&quot;, sans-serif" font-weight="normal" font-size="39.50" textLength="43.37" lengthAdjust="spacingAndGlyphs" fill="#000" stroke="#eeeeee" stroke-width="0.35">’12</text>
<text x="910.29" y="997.30" font-family="&quot;Liberation Sans&quot;, sans-serif" font-weight="normal" font-size="39.50" textLength="41.83" lengthAdjust="spacingAndGlyphs" fill="#000" stroke="#eeeeee" stroke-width="0.35">’13</text>
<text x="981.84" y="997.30" font-family="&quot;Liberation Sans&quot;, sans-serif" font-weight="normal" font-size="39.50" textLength="42.49" lengthAdjust="spacingAndGlyphs" fill="#000" stroke="#eeeeee" stroke-width="0.35">’14</text>
<text x="702.95" y="267.20" font-family="&quot;Liberation Sans&quot;, sans-serif" font-weight="bold" font-size="43.50" textLength="162.12" lengthAdjust="spacingAndGlyphs" fill="#000" stroke="#eeeeee" stroke-width="0.7">Spending</text>
<text x="703.92" y="637.00" font-family="&quot;Liberation Sans&quot;, sans-serif" font-weight="bold" font-size="43.50" textLength="148.06" lengthAdjust="spacingAndGlyphs" fill="#000" stroke="#eeeeee" stroke-width="0.7">Revenue</text>
<text x="116.91" y="824.00" font-family="&quot;Liberation Sans&quot;, sans-serif" font-weight="normal" font-size="38.00" textLength="141.17" lengthAdjust="spacingAndGlyphs" fill="#000" stroke="#e6e6e6" stroke-width="0.7">recession</text>
<text x="567.90" y="824.00" font-family="&quot;Liberation Sans&quot;, sans-serif" font-weight="normal" font-size="38.00" textLength="140.17" lengthAdjust="spacingAndGlyphs" fill="#000" stroke="#e6e6e6" stroke-width="0.7">recession</text>
<text x="1054.40" y="421.80" font-family="&quot;Liberation Sans&quot;, sans-serif" font-weight="normal" font-size="43.00" textLength="108.54" lengthAdjust="spacingAndGlyphs" fill="#000" stroke="#eeeeee" stroke-width="0.35">Deficit</text>
<text x="1056.48" y="467.70" font-family="&quot;Liberation Sans&quot;, sans-serif" font-weight="normal" font-size="43.00" textLength="158.58" lengthAdjust="spacingAndGlyphs" fill="#000" stroke="#eeeeee" stroke-width="0.35">for the 12</text>
<text x="1054.38" y="511.60" font-family="&quot;Liberation Sans&quot;, sans-serif" font-weight="normal" font-size="43.00" textLength="129.66" lengthAdjust="spacingAndGlyphs" fill="#000" stroke="#eeeeee" stroke-width="0.35">months</text>
<text x="1055.44" y="557.60" font-family="&quot;Liberation Sans&quot;, sans-serif" font-weight="normal" font-size="43.00" textLength="149.59" lengthAdjust="spacingAndGlyphs" fill="#000" stroke="#eeeeee" stroke-width="0.35">ending in</text>
<text x="1054.39" y="602.30" font-family="&quot;Liberation Sans&quot;, sans-serif" font-weight="normal" font-size="43.00" textLength="179.78" lengthAdjust="spacingAndGlyphs" fill="#000" stroke="#eeeeee" stroke-width="0.35">December:</text>
<text x="1055.97" y="664.80" font-family="&quot;Liberation Sans&quot;, sans-serif" font-weight="bold" font-size="53.00" textLength="112.07" lengthAdjust="spacingAndGlyphs" fill="#000">$488</text>
<text x="1054.89" y="715.20" font-family="&quot;Liberation Sans&quot;, sans-serif" font-weight="bold" font-size="52.00" textLength="127.18" lengthAdjust="spacingAndGlyphs" fill="#000">billion</text>
<text x="25.99" y="1057.70" font-family="&quot;Liberation Sans&quot;, sans-serif" font-weight="normal" font-size="33.50" textLength="363.08" lengthAdjust="spacingAndGlyphs" fill="#000" stroke="#eeeeee" stroke-width="0.35">Source: Treasury Department</text>
<text x="952.99" y="1057.40" font-family="&quot;Liberation Sans&quot;, sans-serif" font-weight="normal" font-size="33.50" textLength="296.08" lengthAdjust="spacingAndGlyphs" fill="#000" stroke="#eeeeee" stroke-width="0.35">The Wall Street Journal</text>
</svg></body></html>
